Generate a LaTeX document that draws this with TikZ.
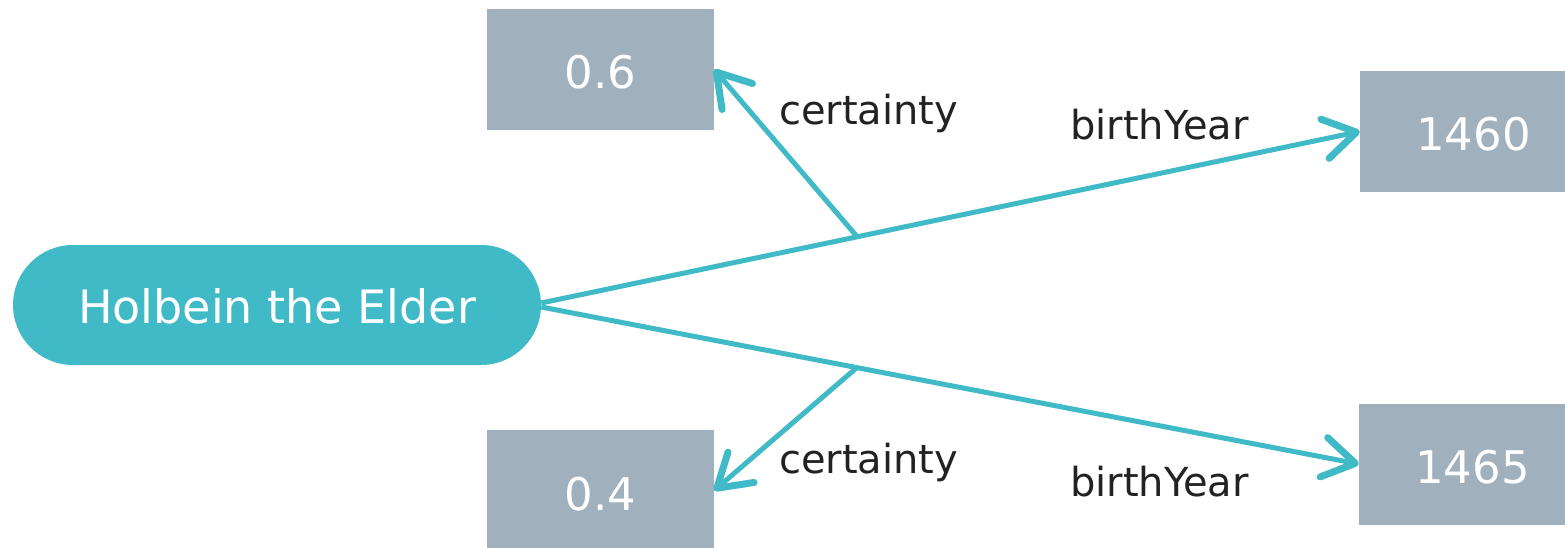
\documentclass[tikz,border=0pt]{standalone}
\usepackage{fontspec}
\setmainfont{DejaVu Sans}
\usetikzlibrary{arrows.meta}
\definecolor{teal}{HTML}{3FBAC6}
\definecolor{boxgray}{HTML}{A0B0BC}
\definecolor{labelink}{HTML}{222222}
\begin{document}
\begin{tikzpicture}[x=1pt,y=1pt,
  entity/.style={rounded corners=60pt, fill=teal, text=white, minimum width=528pt, minimum height=120pt, inner sep=0pt, text height=37pt, text depth=0pt, font=\fontsize{46}{50}\selectfont},
  literal/.style={fill=boxgray, text=white, minimum width=227pt, minimum height=121pt, inner sep=0pt, text height=39pt, text depth=0pt, font=\fontsize{45}{49}\selectfont},
  link/.style={draw=teal, line width=5pt, -{Straight Barb[length=32pt,width=40pt,line width=7pt,round]}},
  edgelabel/.style={text=labelink, inner sep=0pt, font=\fontsize{40}{44}\selectfont}
]
\useasboundingbox (0,0) rectangle (1565,547);

\node[entity] (holbein) at (277,242) {Holbein the Elder};
\node[literal] (y1460) at (1473.5,415.5) {1460};
\node[literal] (y1465) at (1472.5,83) {1465};
\node[literal] (c06) at (600.5,477.5) {0.6};
\node[literal] (c04) at (600.5,56.5) {0.4};

% birth-year statements, each with a point that carries its certainty
\draw[link] ([yshift=2pt]holbein.east) -- coordinate[pos=0.386] (s1) (y1460.west);
\draw[link] ([yshift=-2pt]holbein.east) -- coordinate[pos=0.386] (s2) (y1465.west);
\draw[link] (s1) -- (c06.east);
\draw[link] (s2) -- (c04.east);

\node[edgelabel, anchor=west] (l1) at (779,434) {certainty};
\node[edgelabel, anchor=west] (l2) at (1070,422) {birthYear};
\node[edgelabel, anchor=west] (l3) at (779,85) {certainty};
\node[edgelabel, anchor=west] (l4) at (1070,65) {birthYear};
\end{tikzpicture}
\end{document}
